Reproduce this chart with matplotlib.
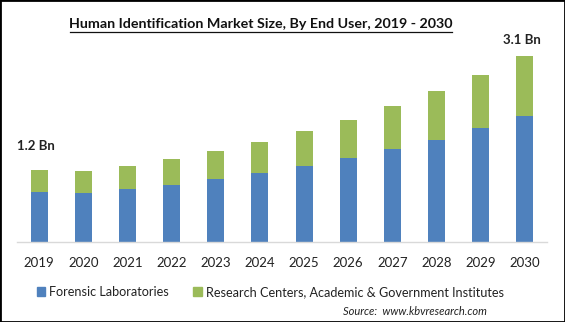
import matplotlib.pyplot as plt
from matplotlib.patches import Rectangle, Patch
import numpy as np

# === data (Bn USD) ===
years = ['2019', '2020', '2021', '2022', '2023', '2024',
         '2025', '2026', '2027', '2028', '2029', '2030']
forensic = [0.844, 0.823, 0.889, 0.956, 1.055, 1.160,
            1.271, 1.404, 1.554, 1.704, 1.903, 2.102]
research = [0.361, 0.365, 0.382, 0.432, 0.466, 0.510,
            0.582, 0.632, 0.714, 0.814, 0.881, 0.998]
series_names = ['Forensic Laboratories',
                'Research Centers, Academic & Government Institutes']

blue = '#4F81BD'
green = '#9BBB59'
font = ['Lato', 'DejaVu Sans']
plt.rcParams['font.family'] = font

fig = plt.figure(figsize=(5.65, 3.22), dpi=100)
ax = fig.add_axes([0.0301, 0.2469, 0.938, 0.6289])

x = np.arange(len(years))
ax.bar(x, forensic, width=0.385, color=blue)
ax.bar(x, research, width=0.385, bottom=forensic, color=green)

ax.set_xlim(-0.5, len(years) - 0.5)
ax.set_ylim(0, 3.366)
ax.set_xticks(x)
ax.set_xticklabels(years, fontsize=9.5, color='#222222')
ax.tick_params(axis='x', length=0, pad=10.5)
ax.set_yticks([])
for s in ['top', 'right', 'left']:
    ax.spines[s].set_visible(False)
ax.spines['bottom'].set_color('#D9D9D9')
ax.spines['bottom'].set_linewidth(1.0)

# end labels
totals = [f + r for f, r in zip(forensic, research)]
ax.annotate('1.2 Bn', (x[0], totals[0]), xytext=(-2, 13), textcoords='offset points',
            ha='center', va='bottom', fontsize=9.5, fontweight='bold', color='#222222')
ax.annotate('3.1 Bn', (x[-1], totals[-1]), xytext=(-2, 7), textcoords='offset points',
            ha='center', va='bottom', fontsize=9.5, fontweight='bold', color='#222222')

# title with underline
fig.text(0.462, 0.925, 'Human Identification Market Size, By End User, 2019 - 2030',
         ha='center', va='center', fontsize=10.3, fontweight='bold', color='#111111')
fig.lines.append(plt.Line2D([70 / 565, 452 / 565], [1 - 31.8 / 322] * 2,
                            transform=fig.transFigure, color='#111111', linewidth=0.9))

# legend
handles = [Patch(color=blue), Patch(color=green)]
fig.legend(handles, series_names, loc='center', bbox_to_anchor=(0.478, 0.093), ncol=2,
           frameon=False, fontsize=9.1, handlelength=0.7, handleheight=0.7,
           handletextpad=0.3, columnspacing=1.9, labelcolor='#222222')

fig.text(487 / 565, 1 - 311.7 / 322, 'Source:  www.kbvresearch.com', ha='right', va='center',
         fontsize=8, style='italic', color='#222222')

# border
fig.patches.append(Rectangle((0, 0), 1, 1, transform=fig.transFigure, fill=False,
                             edgecolor='black', linewidth=2))

fig.savefig('out.png', dpi=100, facecolor='white')
